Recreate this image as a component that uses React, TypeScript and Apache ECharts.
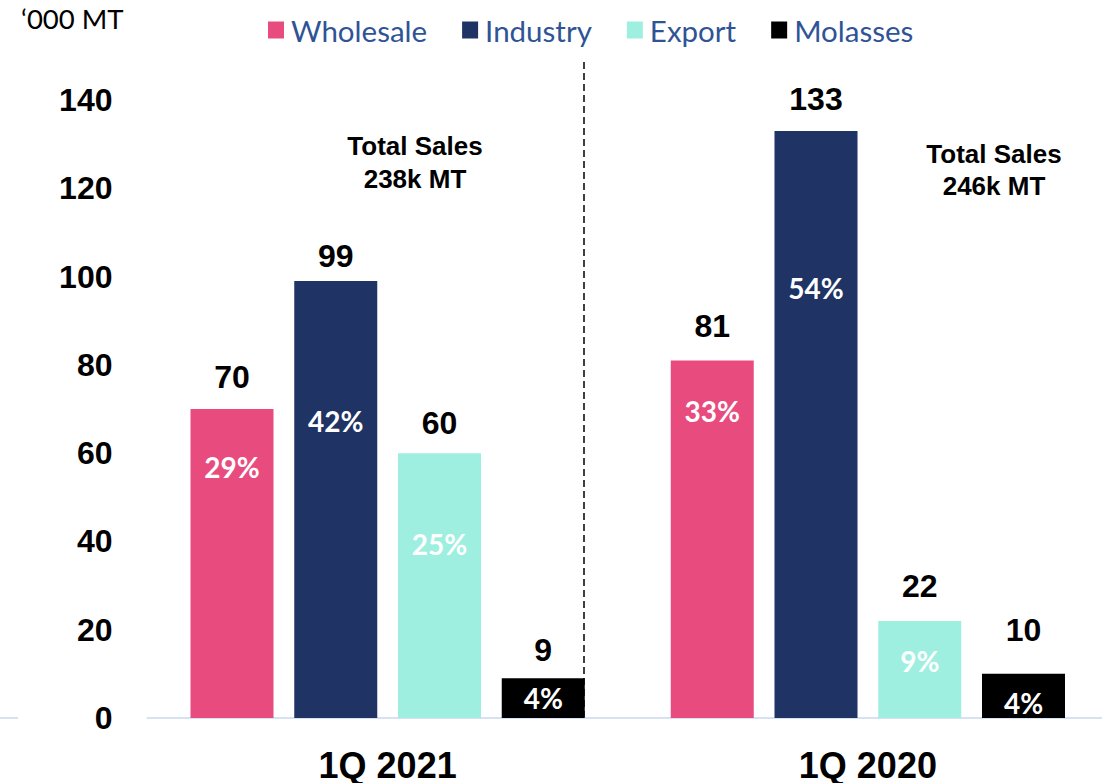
import React, { useEffect, useRef } from "react";
import * as echarts from "echarts";

const categories = ["1Q 2021", "1Q 2020"];
const seriesNames = ["Wholesale", "Industry", "Export", "Molasses"];
const wholesale = [70, 81];
const industry = [99, 133];
const exportSales = [60, 22];
const molasses = [9, 10];
const wholesalePct = ["29%", "33%"];
const industryPct = ["42%", "54%"];
const exportPct = ["25%", "9%"];
const molassesPct = ["4%", "4%"];
const yTicks = { min: 0, max: 140, interval: 20 };
const totals = ["Total Sales\n238k MT", "Total Sales\n246k MT"];

// label styling (distances in px, not data)
const valueLabelGap = [[16, 18], [9, 16], [14, 19], [12, 28]];
const pctLabelOffset = [[58, 51], [140, 157], [91, 40], [20, 29]];
const colors = ["#E84C7E", "#1F3364", "#9EEFE0", "#000000"];

export default function App() {
  const ref = useRef<HTMLDivElement>(null);
  useEffect(() => {
    if (!ref.current) return;
    const chart = echarts.init(ref.current, null, { renderer: "svg" });
    const values = [wholesale, industry, exportSales, molasses];
    const pcts = [wholesalePct, industryPct, exportPct, molassesPct];
    const series: any[] = [];
    seriesNames.forEach((name, i) => {
      series.push({
        type: "bar",
        name,
        stack: "s" + i,
        barWidth: 83,
        barGap: "25%",
        itemStyle: { color: colors[i] },
        label: {
          show: true,
          position: "top",
          color: "#000",
          fontSize: 32,
          fontWeight: "bold",
          fontFamily: "Liberation Sans, Arial, sans-serif",
        },
        data: values[i].map((v, j) => ({ value: v, label: { distance: valueLabelGap[i][j] } })),
      });
      series.push({
        type: "bar",
        name: name + " share",
        stack: "s" + i,
        barWidth: 83,
        barGap: "25%",
        silent: true,
        itemStyle: { color: "transparent" },
        label: {
          show: true,
          color: "#fff",
          fontSize: 28,
          fontWeight: "bold",
          fontFamily: "Lato, sans-serif",
          align: "center",
          verticalAlign: "middle",
        },
        data: pcts[i].map((p, j) => ({
          value: 0,
          label: { formatter: p, position: ["50%", pctLabelOffset[i][j]] },
        })),
      });
    });

    chart.setOption({
      animation: false,
      grid: { left: 147.5, right: 0, top: 100, bottom: 62, containLabel: false },
      legend: {
        data: seriesNames,
        left: 263,
        top: 10,
        icon: "rect",
        itemWidth: 16,
        itemHeight: 17,
        itemGap: 35,
        textStyle: { fontSize: 29.5, color: "#2F5496", fontFamily: "Lato, sans-serif", padding: [0, 0, 0, 2] },
      },
      xAxis: {
        type: "category",
        data: categories,
        axisLine: { lineStyle: { color: "#D6E2F3", width: 2 } },
        axisTick: { show: false },
        axisLabel: {
          fontSize: 36,
          fontWeight: "bold",
          color: "#000",
          margin: 29,
          fontFamily: "Liberation Sans, Arial, sans-serif",
        },
      },
      yAxis: {
        type: "value",
        min: yTicks.min,
        max: yTicks.max,
        interval: yTicks.interval,
        splitLine: { show: false },
        axisLine: { show: false },
        axisTick: { show: false },
        axisLabel: {
          fontSize: 32,
          fontWeight: "bold",
          color: "#000",
          margin: 35,
          fontFamily: "Liberation Sans, Arial, sans-serif",
        },
      },
      graphic: [
        {
          type: "text",
          left: 21,
          top: 4,
          style: { text: "\u2018000 MT", fontSize: 27.5, fill: "#000", fontFamily: "Lato, sans-serif" },
        },
        {
          type: "line",
          shape: { x1: 584, y1: 62, x2: 584, y2: 721 },
          style: { stroke: "#000", lineWidth: 1.5, lineDash: [7, 4] },
        },
        {
          type: "line",
          shape: { x1: 0, y1: 718, x2: 18, y2: 718 },
          style: { stroke: "#D6E2F3", lineWidth: 2 },
        },
        {
          type: "text",
          x: 415,
          y: 162,
          style: {
            text: totals[0],
            fontSize: 26,
            fontWeight: "bold",
            lineHeight: 33,
            fill: "#000",
            align: "center",
            verticalAlign: "middle",
            fontFamily: "Liberation Sans, Arial, sans-serif",
          },
        },
        {
          type: "text",
          x: 994,
          y: 170,
          style: {
            text: totals[1],
            fontSize: 26,
            fontWeight: "bold",
            lineHeight: 32,
            fill: "#000",
            align: "center",
            verticalAlign: "middle",
            fontFamily: "Liberation Sans, Arial, sans-serif",
          },
        },
      ],
      series,
    });
    return () => chart.dispose();
  }, []);
  return (
    <div
      style={{ position: "fixed", left: 0, top: 0, width: 1102, height: 783, overflow: "hidden", background: "#fff" }}
    >
      <div ref={ref} style={{ width: 1108, height: 783 }} />
    </div>
  );
}
